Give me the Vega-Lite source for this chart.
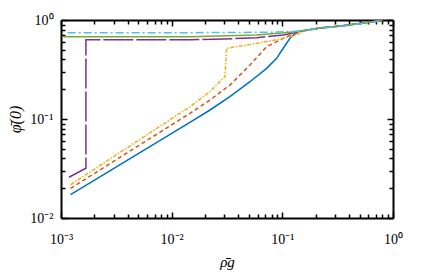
{
  "$schema": "https://vega.github.io/schema/vega-lite/v6.json",
  "width": 332,
  "height": 198,
  "autosize": "none",
  "padding": {"left": 61, "top": 20, "right": 43, "bottom": 54},
  "background": "white",
  "config": {"view": {"stroke": null}},
  "data": {"values": [
    {"s":"b","x":0.00122,"y":0.0172},{"s":"b","x":0.01462,"y":0.0926},{"s":"b","x":0.0222,"y":0.1233},{"s":"b","x":0.0336,"y":0.168},{"s":"b","x":0.051,"y":0.238},{"s":"b","x":0.0721,"y":0.325},{"s":"b","x":0.0888,"y":0.41},{"s":"b","x":0.1019,"y":0.518},{"s":"b","x":0.1172,"y":0.653},{"s":"b","x":0.1346,"y":0.755},{"s":"b","x":0.1546,"y":0.785},{"s":"b","x":0.219,"y":0.83},{"s":"b","x":0.35,"y":0.875},{"s":"b","x":0.8,"y":0.99},
    {"s":"o","x":0.00122,"y":0.0199},{"s":"o","x":0.01462,"y":0.114},{"s":"o","x":0.0222,"y":0.1556},{"s":"o","x":0.0336,"y":0.22},{"s":"o","x":0.051,"y":0.351},{"s":"o","x":0.0721,"y":0.537},{"s":"o","x":0.0888,"y":0.604},{"s":"o","x":0.1094,"y":0.679},{"s":"o","x":0.1346,"y":0.733},{"s":"o","x":0.1546,"y":0.78},{"s":"o","x":0.219,"y":0.83},{"s":"o","x":0.35,"y":0.873},{"s":"o","x":0.8,"y":0.99},
    {"s":"y","x":0.00122,"y":0.0217},{"s":"y","x":0.01462,"y":0.133},{"s":"y","x":0.0222,"y":0.189},{"s":"y","x":0.0303,"y":0.268},{"s":"y","x":0.0314,"y":0.518},{"s":"y","x":0.0586,"y":0.581},{"s":"y","x":0.1019,"y":0.653},{"s":"y","x":0.1346,"y":0.706},{"s":"y","x":0.1546,"y":0.78},{"s":"y","x":0.219,"y":0.83},{"s":"y","x":0.35,"y":0.873},{"s":"y","x":0.8,"y":0.99},
    {"s":"p","x":0.00118,"y":0.0258},{"s":"p","x":0.00168,"y":0.0318},{"s":"p","x":0.00168,"y":0.63},{"s":"p","x":0.01462,"y":0.63},{"s":"p","x":0.0296,"y":0.643},{"s":"p","x":0.0586,"y":0.663},{"s":"p","x":0.1019,"y":0.706},{"s":"p","x":0.1346,"y":0.75},{"s":"p","x":0.1546,"y":0.775},{"s":"p","x":0.219,"y":0.83},{"s":"p","x":0.35,"y":0.873},{"s":"p","x":0.8,"y":0.99},
    {"s":"g","x":0.00102,"y":0.679},{"s":"g","x":0.01462,"y":0.679},{"s":"g","x":0.0586,"y":0.706},{"s":"g","x":0.1172,"y":0.75},{"s":"g","x":0.1546,"y":0.778},{"s":"g","x":0.219,"y":0.83},{"s":"g","x":0.35,"y":0.873},{"s":"g","x":0.8,"y":0.99},
    {"s":"c","x":0.00115,"y":0.745},{"s":"c","x":0.01462,"y":0.745},{"s":"c","x":0.078,"y":0.752},{"s":"c","x":0.1546,"y":0.775},{"s":"c","x":0.219,"y":0.826},{"s":"c","x":0.35,"y":0.868},{"s":"c","x":0.78,"y":0.98}
  ]},
  "resolve": {"axis": {"x": "independent", "y": "independent"}},
  "layer": [
    {
      "layer": [
        {"transform": [{"filter": "datum.s=='b'"}], "mark": {"type": "line", "color": "#0072BD", "strokeWidth": 1.5}},
        {"transform": [{"filter": "datum.s=='o'"}], "mark": {"type": "line", "color": "#D95319", "strokeWidth": 1.5, "strokeDash": [4, 3]}},
        {"transform": [{"filter": "datum.s=='y'"}], "mark": {"type": "line", "color": "#EDB120", "strokeWidth": 1.5, "strokeDash": [4, 1.5, 1.5, 1.5]}},
        {"transform": [{"filter": "datum.s=='p'"}], "mark": {"type": "line", "color": "#7E2F8E", "strokeWidth": 1.5, "strokeDash": [30, 3]}},
        {"transform": [{"filter": "datum.s=='g'"}], "mark": {"type": "line", "color": "#77AC30", "strokeWidth": 1.5}},
        {"transform": [{"filter": "datum.s=='c'"}], "mark": {"type": "line", "color": "#4DBEEE", "strokeWidth": 1.5, "strokeDash": [8, 3, 2, 3]}}
      ],
      "encoding": {
        "x": {"field": "x", "type": "quantitative", "scale": {"type": "log", "domain": [0.001, 1], "nice": false},
          "axis": {"orient": "bottom", "title": "ρ̄g", "titleFont": "Liberation Serif", "titleFontSize": 15, "titleFontStyle": "italic", "titleFontWeight": "normal", "titlePadding": 6,
            "values": [0.001,0.002,0.003,0.004,0.005,0.006,0.007,0.008,0.009,0.01,0.02,0.03,0.04,0.05,0.06,0.07,0.08,0.09,0.1,0.2,0.3,0.4,0.5,0.6,0.7,0.8,0.9,1],
            "labelExpr": "datum.value==0.001?'10⁻³':datum.value==0.01?'10⁻²':datum.value==0.1?'10⁻¹':datum.value==1?'10⁰':''",
            "labelFont": "Liberation Serif", "labelFontSize": 14, "labelColor": "black", "labelPadding": 20, "labelFlush": false, "labelOverlap": false,
            "domainColor": "black", "domainWidth": 2, "tickColor": "black", "tickWidth": 1.5,
            "tickSize": {"condition": {"test": "datum.value==0.001||datum.value==0.01||datum.value==0.1||datum.value==1", "value": -6}, "value": -4},
            "grid": false}},
        "y": {"field": "y", "type": "quantitative", "scale": {"type": "log", "domain": [0.01, 1], "nice": false},
          "axis": {"orient": "left", "title": "φ̄(0)", "titleFont": "Liberation Serif", "titleFontSize": 16, "titleFontStyle": "italic", "titleFontWeight": "normal", "titlePadding": 6,
            "values": [0.01,0.02,0.03,0.04,0.05,0.06,0.07,0.08,0.09,0.1,0.2,0.3,0.4,0.5,0.6,0.7,0.8,0.9,1],
            "labelExpr": "datum.value==0.01?'10⁻²':datum.value==0.1?'10⁻¹':datum.value==1?'10⁰':''",
            "labelFont": "Liberation Serif", "labelFontSize": 14, "labelColor": "black", "labelPadding": 14, "labelFlush": false, "labelOverlap": false,
            "domainColor": "black", "domainWidth": 2, "tickColor": "black", "tickWidth": 1.5,
            "tickSize": {"condition": {"test": "datum.value==0.01||datum.value==0.1||datum.value==1", "value": -6}, "value": -4},
            "grid": false}}
      }
    },
    {
      "mark": {"type": "line", "opacity": 0},
      "encoding": {
        "x": {"field": "x", "type": "quantitative", "scale": {"type": "log", "domain": [0.001, 1], "nice": false},
          "axis": {"orient": "top", "title": null, "labels": false,
            "values": [0.001,0.002,0.003,0.004,0.005,0.006,0.007,0.008,0.009,0.01,0.02,0.03,0.04,0.05,0.06,0.07,0.08,0.09,0.1,0.2,0.3,0.4,0.5,0.6,0.7,0.8,0.9,1],
            "domainColor": "black", "domainWidth": 2, "tickColor": "black", "tickWidth": 1.5,
            "tickSize": {"condition": {"test": "datum.value==0.001||datum.value==0.01||datum.value==0.1||datum.value==1", "value": -6}, "value": -4},
            "grid": false}},
        "y": {"field": "y", "type": "quantitative", "scale": {"type": "log", "domain": [0.01, 1], "nice": false},
          "axis": {"orient": "right", "title": null, "labels": false,
            "values": [0.01,0.02,0.03,0.04,0.05,0.06,0.07,0.08,0.09,0.1,0.2,0.3,0.4,0.5,0.6,0.7,0.8,0.9,1],
            "domainColor": "black", "domainWidth": 2, "tickColor": "black", "tickWidth": 1.5,
            "tickSize": {"condition": {"test": "datum.value==0.01||datum.value==0.1||datum.value==1", "value": -6}, "value": -4},
            "grid": false}}
      }
    }
  ]
}
